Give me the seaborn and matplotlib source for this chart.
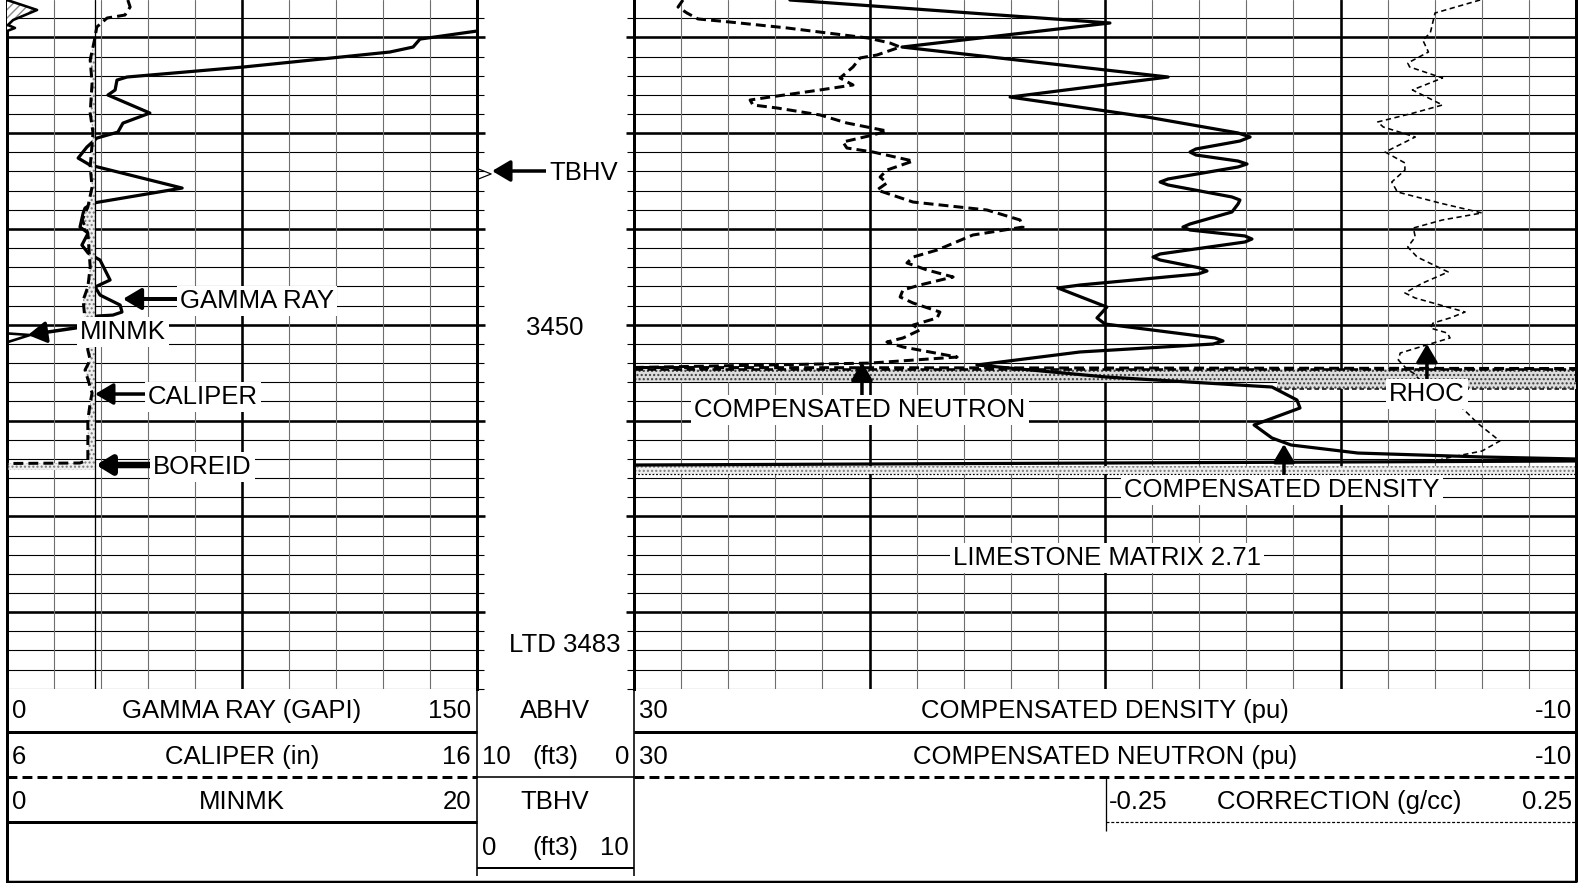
import numpy as np
import pandas as pd
import matplotlib
matplotlib.use("Agg")
import matplotlib.pyplot as plt
import seaborn as sns

gr_depth = [3419.34, 3420.18, 3421.01, 3421.53, 3423.10, 3424.14, 3424.46, 3425.50, 3426.02, 3427.90,
            3428.95, 3429.89, 3430.51, 3431.45, 3432.60, 3433.33, 3435.73, 3437.30, 3437.82, 3438.34,
            3439.80, 3440.43, 3441.68, 3442.52, 3443.25, 3445.33, 3446.06, 3446.90, 3447.94, 3448.67,
            3448.99, 3449.09]
gr_value = [150.0, 131.8, 129.6, 122.2, 75.3, 38.3, 35.1, 34.5, 32.2, 45.6,
            37.0, 35.4, 28.7, 25.5, 22.7, 26.5, 55.9, 27.4, 24.9, 24.3,
            23.3, 25.9, 23.9, 25.9, 29.7, 32.9, 28.1, 29.7, 36.1, 36.7,
            33.8, 28.7]

cal_depth = [3416.10, 3416.83, 3417.67, 3417.98, 3418.92, 3420.07, 3422.36, 3424.76, 3427.90, 3429.98,
             3433.53, 3435.62, 3437.71, 3439.06, 3440.42, 3443.97, 3446.06, 3447.42, 3452.63, 3453.68,
             3454.72, 3457.12, 3458.17, 3459.94, 3464.12, 3464.43, 3464.48, 3465.16]
cal_value = [8.57, 8.62, 8.51, 8.13, 7.91, 7.87, 7.77, 7.81, 7.77, 7.83,
             7.77, 7.81, 7.72, 7.60, 7.72, 7.77, 7.72, 7.62, 7.72, 7.77,
             7.66, 7.81, 7.77, 7.72, 7.72, 7.55, 6.0, 6.0]

boreid_depth = [3416.1, 3488.0]
boreid_value = [7.875, 7.875]

minmk_depth = [3416.10, 3417.14, 3418.19, 3418.71, 3419.02, 3419.34, 3450.90, 3451.07, 3451.80]
minmk_value = [0.0, 1.28, 0.26, 0.04, 0.34, 0.0, 0.0, 0.98, 0.04]

tbhv_depth = [3433.74, 3434.26, 3434.78]
tbhv_value = [0.1, 0.9, 0.1]

neu_depth = [3416.10, 3416.83, 3417.46, 3418.08, 3418.40, 3419.02, 3419.54, 3420.07, 3420.59, 3421.01,
             3421.84, 3422.15, 3423.09, 3424.24, 3424.97, 3425.49, 3426.23, 3426.54, 3427.06, 3427.37,
             3428.10, 3428.94, 3429.77, 3430.19, 3430.92, 3431.55, 3431.97, 3432.91, 3433.85, 3434.58,
             3435.20, 3435.93, 3437.19, 3438.02, 3439.06, 3439.80, 3440.63, 3442.20, 3442.93, 3443.55,
             3444.28, 3445.01, 3445.85, 3446.37, 3447.10, 3447.73, 3448.67, 3449.29, 3450.03, 3450.55,
             3451.38, 3451.80, 3452.32, 3453.37, 3454.00, 3454.46, 3454.57]
neu_value = [27.92, 28.13, 27.75, 27.28, 25.92, 23.50, 21.80, 20.06, 19.13, 18.70,
             19.68, 20.40, 20.70, 21.25, 20.70, 22.10, 24.23, 25.07, 24.95, 23.93,
             22.10, 20.96, 19.26, 19.85, 21.13, 20.96, 19.85, 18.15, 19.26, 19.55,
             19.26, 19.68, 18.15, 15.01, 13.61, 13.48, 15.61, 17.13, 18.15, 18.41,
             17.56, 16.45, 17.86, 18.58, 18.70, 18.15, 17.01, 17.13, 18.15, 17.86,
             18.58, 19.26, 18.58, 16.28, 19.98, 30.0, -10.0]

den_depth = [3416.10, 3418.50, 3421.01, 3424.14, 3426.23, 3427.90, 3428.31, 3429.98, 3430.40, 3430.82,
             3431.65, 3431.97, 3432.28, 3432.91, 3433.22, 3433.53, 3434.78, 3435.10, 3435.41, 3436.66,
             3436.98, 3437.39, 3438.23, 3439.48, 3439.80, 3440.11, 3440.73, 3441.05, 3441.36, 3442.61,
             3442.93, 3443.24, 3444.07, 3444.39, 3444.70, 3445.85, 3446.16, 3448.15, 3449.29, 3449.92,
             3451.38, 3451.69, 3452.01, 3452.84, 3454.20, 3455.45, 3456.50, 3457.85, 3458.69, 3460.46,
             3461.82, 3462.55, 3463.39, 3463.80, 3464.01, 3464.22, 3464.64]
den_value = [23.38, 9.79, 18.62, 7.32, 14.03, 9.36, 8.22, 4.35, 3.84, 4.27,
             6.14, 6.39, 6.14, 4.35, 3.97, 4.35, 7.32, 7.66, 7.32, 4.61,
             4.27, 4.35, 4.61, 6.39, 6.69, 6.39, 4.06, 3.76, 4.06, 7.66,
             7.96, 7.66, 5.97, 5.67, 6.05, 11.06, 12.00, 9.92, 10.34, 10.00,
             5.33, 4.99, 5.41, 11.06, 15.44, 9.96, 2.91, 1.85, 1.72, 3.67,
             2.91, 2.10, -0.74, -6.01, -10.0, -10.0, 30.0]

rhoc_depth = [3416.10, 3417.46, 3418.71, 3419.54, 3420.28, 3421.53, 3422.68, 3423.09, 3424.24, 3425.49,
              3427.06, 3427.90, 3428.83, 3429.36, 3430.40, 3431.97, 3433.11, 3433.85, 3435.10, 3436.14,
              3437.29, 3438.33, 3439.06, 3439.90, 3440.84, 3441.88, 3442.93, 3444.49, 3445.64, 3446.68,
              3447.21, 3447.73, 3448.67, 3449.29, 3449.82, 3450.34, 3450.86, 3451.38, 3452.11, 3452.95,
              3453.68, 3454.72, 3455.04, 3457.65, 3458.69, 3460.25, 3462.13, 3463.18, 3464.01]
rhoc_value = [0.148, 0.100, 0.097, 0.095, 0.087, 0.093, 0.071, 0.073, 0.108, 0.076,
              0.108, 0.077, 0.039, 0.045, 0.079, 0.047, 0.068, 0.068, 0.054, 0.060,
              0.105, 0.150, 0.108, 0.077, 0.079, 0.071, 0.081, 0.114, 0.087, 0.068,
              0.079, 0.098, 0.132, 0.116, 0.098, 0.095, 0.113, 0.116, 0.091, 0.063,
              0.061, 0.071, 0.077, 0.102, 0.129, 0.145, 0.169, 0.150, 0.107]

# shaded end-of-log bands (depth top, depth bottom)
band_full_a = [3454.62, 3455.97]
band_rhoc = [3455.97, 3456.70]
band_rhoc_left = -0.068
band_full_b = [3464.70, 3465.58]

# header texts
track1_headers = [("0", "GAMMA RAY (GAPI)", "150"), ("6", "CALIPER (in)", "16"), ("0", "MINMK", "20")]
track2_headers = [("30", "COMPENSATED DENSITY (pu)", "-10"), ("30", "COMPENSATED NEUTRON (pu)", "-10")]
rhoc_header = ("-0.25", "CORRECTION (g/cc)", "0.25")
depth_headers = ["ABHV", ("10", "(ft3)", "0"), "TBHV", ("0", "(ft3)", "10")]

# ------------------------------------------------------------------ style / layout
sns.set_theme(style="white")
plt.rcParams["font.family"] = ["Liberation Sans", "DejaVu Sans"]
plt.rcParams["hatch.linewidth"] = 1.0

W, H, DPI = 1581, 883, 100
PX = 72.0 / DPI
TOP_D, BOT_D = 3416.1, 3488.0
PX_PER_FT = 9.58
TRACK_H = (BOT_D - TOP_D) * PX_PER_FT
FS = 18.5

fig = plt.figure(figsize=(W / DPI, H / DPI), dpi=DPI, facecolor="white")


def make_axes(x0, w, xlim):
    ax = fig.add_axes([x0 / W, 1 - TRACK_H / H, w / W, TRACK_H / H])
    ax.patch.set_visible(False)
    for s in ax.spines.values():
        s.set_visible(False)
    ax.set_xlim(*xlim)
    ax.set_ylim(BOT_D, TOP_D)
    return ax


def finish(ax, xlim, keep_y=False):
    ax.set_xlim(*xlim)
    ax.set_ylim(BOT_D, TOP_D)
    ax.set_xlabel("")
    ax.set_ylabel("")
    ax.set_xticks([])
    if not keep_y:
        ax.set_yticks([])


depth_grid = np.arange(3416, 3489, 2)
depth_grid = depth_grid[depth_grid > TOP_D]


def draw_hgrid(ax):
    for d in depth_grid:
        major = d % 10 == 0
        ax.axhline(d, color="black", linewidth=(2.6 if major else 1.1) * PX, zorder=1)


def draw_vgrid(ax, values, majors):
    for v in values:
        if any(abs(v - m) < 1e-9 for m in majors):
            ax.axvline(v, color="black", linewidth=2.6 * PX, zorder=1)
        else:
            ax.axvline(v, color="#6e6e6e", linewidth=1.1 * PX, zorder=1)


def borders(ax):
    for side in ("left", "right"):
        ax.spines[side].set_visible(True)
        ax.spines[side].set_color("black")
        ax.spines[side].set_linewidth(3.0 * PX)


def stipple(ax, y, x1, x2, dark=True, **kw):
    ax.fill_betweenx(y, x1, x2, facecolor=("#dcdcdc" if dark else "#efefef"),
                     edgecolor=("#3c3c3c" if dark else "#7a7a7a"),
                     hatch="....", linewidth=0, zorder=2, **kw)


def line(ax, depth, value, lw, ls="-", z=5):
    df = pd.DataFrame({"depth": depth, "value": value})
    sns.lineplot(data=df, x="value", y="depth", sort=False, estimator=None, orient="y",
                 ax=ax, color="black", linewidth=lw * PX, linestyle=ls, zorder=z)


def arrow(ax, tip, tail, lw=3.0, head=(1.1, 0.65)):
    ax.annotate("", xy=tip, xytext=tail,
                arrowprops=dict(arrowstyle=f"-|>,head_length={head[0]},head_width={head[1]}",
                                color="black", linewidth=lw * PX, mutation_scale=10,
                                shrinkA=0, shrinkB=0), zorder=8)


def label(ax, x, d, s, ha="left"):
    ax.text(x, d, s, ha=ha, va="baseline", fontsize=FS, color="black", zorder=9,
            bbox=dict(boxstyle="square,pad=0.12", fc="white", ec="none"))


# ------------------------------------------------------------------ track 1
GR_LIM, CAL_LIM, MINMK_LIM = (0, 150), (6, 16), (0, 20)
ax1 = make_axes(7, 470, GR_LIM)
draw_hgrid(ax1)
draw_vgrid(ax1, np.arange(15, 150, 15), [75])
line(ax1, gr_depth, gr_value, 3.2)
finish(ax1, GR_LIM)
borders(ax1)

ax1c = make_axes(7, 470, CAL_LIM)
cal_arr = np.array(cal_value)
stipple(ax1c, cal_depth, cal_value, boreid_value[0], dark=False,
        where=cal_arr < boreid_value[0], interpolate=True)
line(ax1c, boreid_depth, boreid_value, 1.3, z=4)
line(ax1c, cal_depth, cal_value, 3.0, ls=(0, (3.3, 1.7)))
finish(ax1c, CAL_LIM)

ax1m = make_axes(7, 470, MINMK_LIM)
ax1m.fill_betweenx(minmk_depth[:6], 0, minmk_value[:6], facecolor="white", edgecolor="#8a8a8a",
                   hatch="////", linewidth=0, zorder=2)
line(ax1m, minmk_depth, minmk_value, 2.6)
finish(ax1m, MINMK_LIM)

ax1t = make_axes(7, 470, GR_LIM)
arrow(ax1t, (37.0, 3447.31), (54.5, 3447.31), lw=4.0)
label(ax1t, 55.2, 3448.25, "GAMMA RAY")
arrow(ax1t, (6.7, 3451.07), (22.5, 3450.30), lw=3.5)
label(ax1t, 23.3, 3451.49, "MINMK")
arrow(ax1t, (28.1, 3457.23), (44.5, 3457.23), lw=3.5)
label(ax1t, 45.0, 3458.27, "CALIPER")
arrow(ax1t, (28.4, 3464.64), (46.0, 3464.64), lw=6.5, head=(0.9, 0.55))
label(ax1t, 46.6, 3465.58, "BOREID")
finish(ax1t, GR_LIM)

# ------------------------------------------------------------------ depth track
D_LIM = (0, 10)
axd = make_axes(477, 157, D_LIM)
line(axd, tbhv_depth, tbhv_value, 1.2)
arrow(axd, (0.96, 3433.95), (4.4, 3433.95), lw=3.5)
label(axd, 4.59, 3434.89, "TBHV")
axd.text(4.97, 3451.07, "3450", ha="center", va="baseline", fontsize=FS, color="black")
axd.text(5.61, 3484.16, "LTD 3483", ha="center", va="baseline", fontsize=FS, color="black")
finish(axd, D_LIM, keep_y=True)
axd.set_yticks(np.arange(3420, 3489, 10))
axd.set_yticks(depth_grid, minor=True)
axd.tick_params(axis="y", which="major", direction="in", length=6, width=2.6 * PX, color="black",
                left=True, right=True, labelleft=False, labelright=False)
axd.tick_params(axis="y", which="minor", direction="in", length=5, width=1.1 * PX, color="black",
                left=True, right=True, labelleft=False, labelright=False)
borders(axd)

# ------------------------------------------------------------------ tracks 2/3
PU_LIM, RHOC_LIM = (30, -10), (-0.25, 0.25)
ax2 = make_axes(634, 942, PU_LIM)
draw_hgrid(ax2)
draw_vgrid(ax2, np.arange(28, -10, -2), [20, 10, 0])
stipple(ax2, band_full_a, PU_LIM[0], PU_LIM[1])
stipple(ax2, band_full_b, PU_LIM[0], PU_LIM[1], dark=False)
ax2.plot(PU_LIM, [band_full_a[0]] * 2, color="black", linewidth=2.6 * PX, linestyle=(0, (3.3, 1.7)), zorder=3)
ax2.plot(PU_LIM, [band_full_b[1]] * 2, color="black", linewidth=1.2 * PX, linestyle=(0, (1.5, 1.5)), zorder=3)
line(ax2, neu_depth, neu_value, 3.0, ls=(0, (3.3, 1.7)))
line(ax2, den_depth, den_value, 3.2)
finish(ax2, PU_LIM)
borders(ax2)

ax3 = make_axes(1106, 470, RHOC_LIM)
stipple(ax3, band_rhoc, band_rhoc_left, RHOC_LIM[1])
ax3.plot([band_rhoc_left, RHOC_LIM[1]], [band_rhoc[1]] * 2, color="black", linewidth=1.5 * PX,
         linestyle=(0, (3.0, 2.0)), zorder=3)
line(ax3, rhoc_depth, rhoc_value, 1.6, ls=(0, (3.3, 2.2)))
finish(ax3, RHOC_LIM)

ax2t = make_axes(634, 942, PU_LIM)
arrow(ax2t, (20.32, 3453.89), (20.32, 3457.6), lw=3.5)
label(ax2t, 20.40, 3459.63, "COMPENSATED NEUTRON", ha="center")
arrow(ax2t, (2.40, 3462.45), (2.40, 3466.3), lw=3.5)
label(ax2t, 2.48, 3467.98, "COMPENSATED DENSITY", ha="center")
arrow(ax2t, (-3.67, 3452.01), (-3.67, 3456.2), lw=3.5)
label(ax2t, -3.67, 3457.96, "RHOC", ha="center")
label(ax2t, 9.92, 3475.08, "LIMESTONE MATRIX 2.71", ha="center")
finish(ax2t, PU_LIM)

# ------------------------------------------------------------------ header block
axh = fig.add_axes([0, 0, 1, 1])
axh.set_xlim(0, W)
axh.set_ylim(H, 0)
axh.axis("off")
axh.patch.set_visible(False)

T1, DC, T2, T3 = (7, 477), (477, 634), (634, 1576), (1106, 1576)
Y_TOP = TRACK_H


def hseg(x0, x1, y, lw, ls="-"):
    axh.plot([x0, x1], [y, y], color="black", linewidth=lw * PX, linestyle=ls,
             solid_capstyle="butt", dash_capstyle="butt")


def vseg(x, y0, y1, lw):
    axh.plot([x, x], [y0, y1], color="black", linewidth=lw * PX, solid_capstyle="butt")


vseg(T1[0], Y_TOP, 882, 3.0)
vseg(T2[1], Y_TOP, 882, 3.0)
hseg(T1[0] - 1, T2[1] + 1, 881.5, 2.5)
vseg(DC[0], Y_TOP, 876, 1.6)
vseg(DC[1], Y_TOP, 876, 1.6)

dash = (0, (3.3, 1.7))
for (x0, x1) in (T1, T2):
    hseg(x0, x1, 732, 3.0)
    hseg(x0, x1, 777, 3.0, ls=dash)
hseg(T1[0], T1[1], 822, 3.0)
hseg(DC[0], DC[1], 777, 1.6)
hseg(DC[0], DC[1], 868, 2.0)
vseg(T3[0], 777, 831, 1.3)
hseg(T3[0], T3[1], 822, 1.2, ls=(0, (2.5, 1.5)))

row_base = [718, 764, 809, 855]


def htext(x, y, s, ha):
    axh.text(x, y, s, ha=ha, va="baseline", fontsize=FS, color="black")


for i, (lo, name, hi) in enumerate(track1_headers):
    htext(12, row_base[i], lo, "left")
    htext(242, row_base[i], name, "center")
    htext(471, row_base[i], hi, "right")
for i, (lo, name, hi) in enumerate(track2_headers):
    htext(639, row_base[i], lo, "left")
    htext(1105, row_base[i], name, "center")
    htext(1572, row_base[i], hi, "right")
htext(1109, row_base[2], rhoc_header[0], "left")
htext(1339, row_base[2], rhoc_header[1], "center")
htext(1572, row_base[2], rhoc_header[2], "right")
for i, item in enumerate(depth_headers):
    if isinstance(item, str):
        htext(555, row_base[i], item, "center")
    else:
        htext(482, row_base[i], item[0], "left")
        htext(555, row_base[i], item[1], "center")
        htext(629, row_base[i], item[2], "right")

fig.savefig("out.png", dpi=DPI, facecolor="white")
